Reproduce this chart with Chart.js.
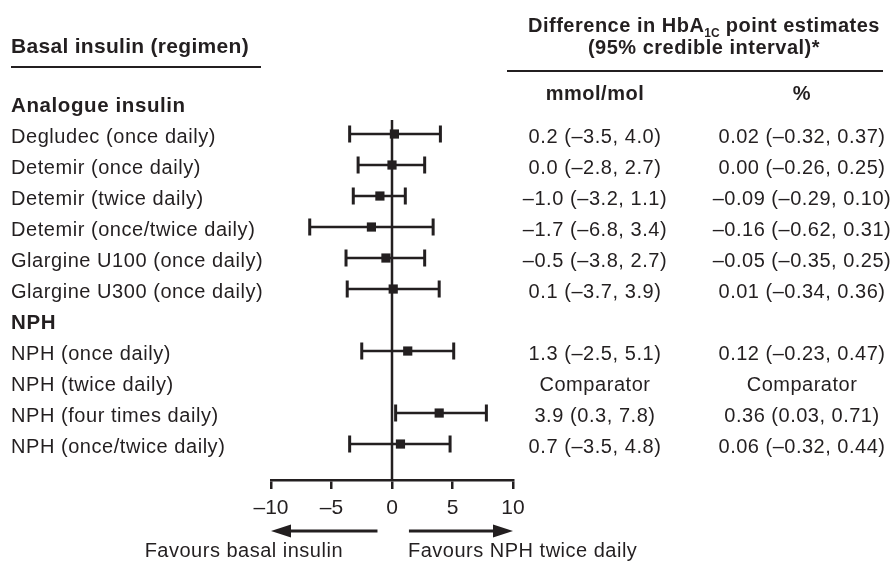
<!DOCTYPE html>
<html>
<head>
<meta charset="utf-8">
<script src="https://cdn.jsdelivr.net/npm/chart.js@4/dist/chart.umd.min.js"></script>
<style>
  html, body { margin: 0; padding: 0; background: #ffffff; }
  #wrap { width: 896px; height: 562px; position: relative; }
</style>
</head>
<body>
<div id="wrap"><canvas id="c" width="896" height="562"></canvas></div>
<script>
// ---- Data ----
const regimens = [
  "Degludec (once daily)",
  "Detemir (once daily)",
  "Detemir (twice daily)",
  "Detemir (once/twice daily)",
  "Glargine U100 (once daily)",
  "Glargine U300 (once daily)",
  "NPH (once daily)",
  "NPH (twice daily)",
  "NPH (four times daily)",
  "NPH (once/twice daily)"
];
const rowIndex = [1, 2, 3, 4, 5, 6, 8, 9, 10, 11];
const groupHeaders = ["Analogue insulin", "NPH"];
const groupRowIndex = [0, 7];
const estimate = [0.2, 0.0, -1.0, -1.7, -0.5, 0.1, 1.3, null, 3.9, 0.7];
const lower = [-3.5, -2.8, -3.2, -6.8, -3.8, -3.7, -2.5, null, 0.3, -3.5];
const upper = [4.0, 2.7, 1.1, 3.4, 2.7, 3.9, 5.1, null, 7.8, 4.8];
const mmolText = [
  "0.2 (–3.5, 4.0)", "0.0 (–2.8, 2.7)", "–1.0 (–3.2, 1.1)", "–1.7 (–6.8, 3.4)",
  "–0.5 (–3.8, 2.7)", "0.1 (–3.7, 3.9)", "1.3 (–2.5, 5.1)", "Comparator",
  "3.9 (0.3, 7.8)", "0.7 (–3.5, 4.8)"
];
const pctText = [
  "0.02 (–0.32, 0.37)", "0.00 (–0.26, 0.25)", "–0.09 (–0.29, 0.10)", "–0.16 (–0.62, 0.31)",
  "–0.05 (–0.35, 0.25)", "0.01 (–0.34, 0.36)", "0.12 (–0.23, 0.47)", "Comparator",
  "0.36 (0.03, 0.71)", "0.06 (–0.32, 0.44)"
];
const xTicks = [-10, -5, 0, 5, 10];
const arrowLeft = [-1.2, -10];
const arrowRight = [1.4, 10];

// ---- Styling ----
const INK = "#231f20";
const FONT = "'Liberation Sans', Arial, Helvetica, sans-serif";
const BODY = "20px " + FONT;
const BOLD = "bold 20px " + FONT;

const points = [];
estimate.forEach((v, i) => { if (v !== null) points.push({ x: v, y: rowIndex[i], i: i }); });

function txt(ctx, s, x, y, font, align, spacing) {
  ctx.font = font;
  ctx.textAlign = align;
  ctx.textBaseline = "alphabetic";
  ctx.letterSpacing = (spacing || 0) + "px";
  ctx.fillStyle = INK;
  ctx.fillText(s, x, y);
  ctx.letterSpacing = "0px";
}

const forestPlugin = {
  id: "forest",
  beforeDatasetsDraw(chart) {
    const ctx = chart.ctx, xs = chart.scales.x, ys = chart.scales.y, ca = chart.chartArea;
    ctx.save();
    ctx.strokeStyle = INK;
    // zero line
    ctx.lineWidth = 2.5;
    const x0 = xs.getPixelForValue(0);
    ctx.beginPath(); ctx.moveTo(x0, ca.top); ctx.lineTo(x0, ca.bottom); ctx.stroke();
    // error bars
    estimate.forEach((v, i) => {
      if (v === null) return;
      const y = ys.getPixelForValue(rowIndex[i]);
      const xl = xs.getPixelForValue(lower[i]), xh = xs.getPixelForValue(upper[i]);
      ctx.lineWidth = 2.5;
      ctx.beginPath(); ctx.moveTo(xl, y); ctx.lineTo(xh, y); ctx.stroke();
      ctx.lineWidth = 3;
      ctx.beginPath();
      ctx.moveTo(xl, y - 8.5); ctx.lineTo(xl, y + 8.5);
      ctx.moveTo(xh, y - 8.5); ctx.lineTo(xh, y + 8.5);
      ctx.stroke();
    });
    ctx.restore();
  },
  afterDraw(chart) {
    const ctx = chart.ctx, xs = chart.scales.x, ys = chart.scales.y;
    ctx.save();
    const off = 8.5;
    // left headings
    txt(ctx, "Basal insulin (regimen)", 11, 53, "bold 21px " + FONT, "left", 0.3);
    ctx.fillStyle = INK;
    ctx.fillRect(11, 66, 250, 2);
    groupHeaders.forEach((h, k) => {
      txt(ctx, h, 11, ys.getPixelForValue(groupRowIndex[k]) + off, "bold 20.5px " + FONT, "left", 0.6);
    });
    regimens.forEach((r, i) => {
      const y = ys.getPixelForValue(rowIndex[i]) + off;
      txt(ctx, r, 11, y, BODY, "left", 0.55);
      txt(ctx, mmolText[i], 595, y, BODY, "center", 0.55);
      txt(ctx, pctText[i], 802, y, BODY, "center", 0.5);
    });
    // right heading
    const p1 = "Difference in HbA", p2 = " point estimates";
    ctx.font = "bold 12px " + FONT; ctx.letterSpacing = "0px";
    const wSub = ctx.measureText("1C").width;
    ctx.font = BOLD; ctx.letterSpacing = "0.5px";
    const w1 = ctx.measureText(p1).width, w2 = ctx.measureText(p2).width;
    ctx.letterSpacing = "0px";
    let sx = 704 - (w1 + wSub + w2) / 2;
    txt(ctx, p1, sx, 32, BOLD, "left", 0.5);
    txt(ctx, "1C", sx + w1, 37, "bold 12px " + FONT, "left", 0);
    txt(ctx, p2, sx + w1 + wSub, 32, BOLD, "left", 0.5);
    txt(ctx, "(95% credible interval)*", 704, 54, BOLD, "center", 0.5);
    ctx.fillStyle = INK;
    ctx.fillRect(507, 70, 376, 2);
    txt(ctx, "mmol/mol", 595, 100, BOLD, "center", 0.5);
    txt(ctx, "%", 802, 100, BOLD, "center", 0.5);
    // arrows
    const ay = 531;
    function arrow(a, b) {
      const xa = xs.getPixelForValue(a), xb = xs.getPixelForValue(b);
      const dir = Math.sign(xb - xa);
      ctx.strokeStyle = INK; ctx.fillStyle = INK; ctx.lineWidth = 3;
      ctx.beginPath(); ctx.moveTo(xa, ay); ctx.lineTo(xb - dir * 16, ay); ctx.stroke();
      ctx.beginPath();
      ctx.moveTo(xb, ay);
      ctx.lineTo(xb - dir * 20, ay - 6.5);
      ctx.lineTo(xb - dir * 20, ay + 6.5);
      ctx.closePath(); ctx.fill();
    }
    arrow(arrowLeft[0], arrowLeft[1]);
    arrow(arrowRight[0], arrowRight[1]);
    txt(ctx, "Favours basal insulin", 343, 557, BODY, "right", 0.5);
    txt(ctx, "Favours NPH twice daily", 408, 557, BODY, "left", 0.5);
    ctx.restore();
  }
};

new Chart(document.getElementById("c"), {
  type: "scatter",
  data: {
    datasets: [{
      data: points,
      pointStyle: "rect",
      radius: 6.5,
      hoverRadius: 6.5,
      backgroundColor: INK,
      borderColor: INK,
      borderWidth: 0,
      clip: false
    }]
  },
  options: {
    responsive: false,
    animation: false,
    events: [],
    layout: { padding: { left: 271, right: 383, top: 120, bottom: 0 } },
    plugins: { legend: { display: false }, tooltip: { enabled: false } },
    scales: {
      x: {
        type: "linear",
        min: -10, max: 10,
        afterBuildTicks: s => { s.ticks = xTicks.map(v => ({ value: v })); },
        afterFit: s => { s.height = 82; },
        ticks: {
          color: INK,
          font: { family: FONT, size: 21 },
          padding: 7,
          maxRotation: 0,
          callback: v => (v < 0 ? "–" + Math.abs(v) : String(v))
        },
        grid: { drawOnChartArea: false, drawTicks: true, tickLength: 9, color: INK, lineWidth: 2.5 },
        border: { display: true, color: INK, width: 2.5 }
      },
      y: {
        type: "linear",
        display: false,
        reverse: true,
        min: 0.548, max: 12.16
      }
    }
  },
  plugins: [forestPlugin]
});
</script>
</body>
</html>
